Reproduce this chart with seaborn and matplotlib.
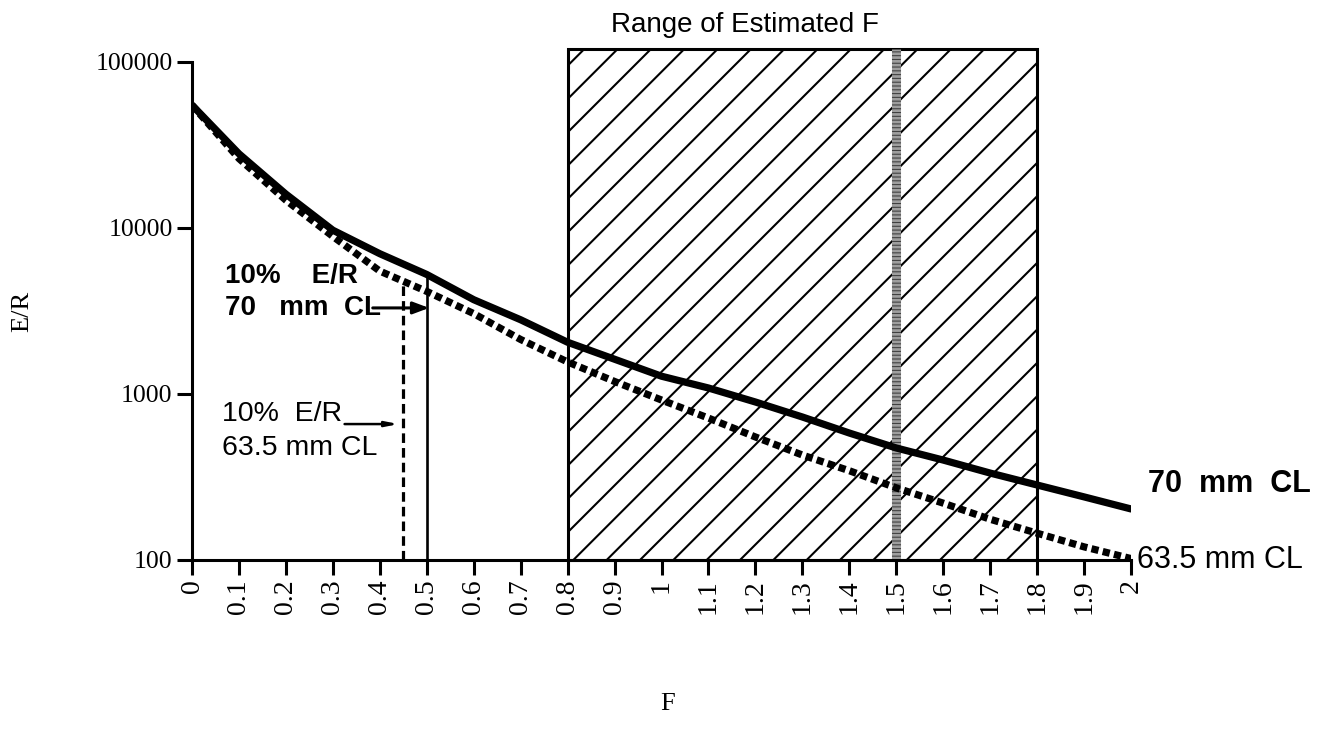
import matplotlib
matplotlib.use("Agg")
import matplotlib.pyplot as plt
import numpy as np
import pandas as pd
import seaborn as sns
from matplotlib.patches import Rectangle

# Fishing mortality F and eggs-per-recruit (E/R) for two minimum carapace lengths
f_values = [0.0, 0.1, 0.2, 0.3, 0.4, 0.5, 0.6, 0.7, 0.8, 0.9, 1.0,
            1.1, 1.2, 1.3, 1.4, 1.5, 1.6, 1.7, 1.8, 1.9, 2.0]
er_70mm = [55000, 28000, 16000, 9700, 7000, 5250, 3700, 2800, 2050, 1620, 1280,
           1087, 895, 727, 582, 473, 400, 334, 283, 240, 203]
er_635mm = [55000, 26200, 14700, 8900, 5500, 4150, 3050, 2130, 1560, 1190, 920,
            716, 551, 429, 345, 272, 220, 176, 145, 120, 102]

# Range of estimated F and the point estimate
f_range = [0.8, 1.8]
f_best = 1.5

# F giving 10% of unfished E/R for each size limit
f_10pct_70mm = 0.5
f_10pct_635mm = 0.45

x_ticks = [0.0, 0.1, 0.2, 0.3, 0.4, 0.5, 0.6, 0.7, 0.8, 0.9, 1.0,
           1.1, 1.2, 1.3, 1.4, 1.5, 1.6, 1.7, 1.8, 1.9, 2.0]
x_tick_labels = ["0", "0.1", "0.2", "0.3", "0.4", "0.5", "0.6", "0.7", "0.8", "0.9", "1",
                 "1.1", "1.2", "1.3", "1.4", "1.5", "1.6", "1.7", "1.8", "1.9", "2"]
y_ticks = [100, 1000, 10000, 100000]
y_tick_labels = ["100", "1000", "10000", "100000"]

sns.set_theme(style="ticks")
plt.rcParams.update({
    "font.family": ["Liberation Serif", "DejaVu Serif"],
    "text.color": "black",
    "axes.labelcolor": "black",
    "axes.linewidth": 2.2,
    "xtick.major.width": 2.2,
    "ytick.major.width": 2.2,
    "xtick.major.size": 11,
    "ytick.major.size": 11,
    "xtick.color": "black",
    "ytick.color": "black",
    "axes.edgecolor": "black",
    "hatch.linewidth": 1.5,
    "hatch.color": "black",
})
SANS = ["Liberation Sans", "DejaVu Sans"]

df_70 = pd.DataFrame({"F": f_values, "ER": er_70mm})
df_635 = pd.DataFrame({"F": f_values, "ER": er_635mm})

fig = plt.figure(figsize=(13.35, 7.42), dpi=100)
ax = fig.add_axes([192 / 1335, 182 / 742, 939 / 1335, 498 / 742])

ax.set_yscale("log")
ax.set_xlim(0, 2)
ax.set_ylim(100, 100000)

# Hatched band for the range of estimated F
band_top = 1.026
ax.add_patch(Rectangle((f_range[0], 0), f_range[1] - f_range[0], band_top,
                       transform=ax.get_xaxis_transform(), fill=False,
                       hatch="/", edgecolor="black", lw=2.2, clip_on=False, zorder=1))
# Stippled line at the point estimate
ax.plot([f_best, f_best], [0, band_top], transform=ax.get_xaxis_transform(),
        color="0.62", lw=6.5, solid_capstyle="butt", clip_on=False, zorder=2)
ax.plot([f_best, f_best], [0, band_top], transform=ax.get_xaxis_transform(),
        color="0.25", lw=6.5, linestyle=(0, (0.12, 0.3)), dash_capstyle="butt",
        clip_on=False, zorder=2)

# E/R curves
sns.lineplot(data=df_70, x="F", y="ER", ax=ax, color="black", lw=5.2,
             solid_capstyle="round", solid_joinstyle="round", zorder=4)
sns.lineplot(data=df_635, x="F", y="ER", ax=ax, color="black", lw=5.2,
             linestyle=(0, (1.0, 0.6)), dash_capstyle="butt", zorder=3)

# Vertical markers at the 10% E/R fishing mortalities
log70 = np.log10(er_70mm)
log635 = np.log10(er_635mm)
top_70 = 10 ** np.interp(f_10pct_70mm, f_values, log70)
top_635 = 10 ** np.interp(f_10pct_635mm, f_values, log635)
ax.plot([f_10pct_70mm, f_10pct_70mm], [100, top_70], color="black", lw=1.9, zorder=3)
ax.plot([f_10pct_635mm, f_10pct_635mm], [100, top_635], color="black", lw=2.3,
        linestyle=(0, (3.0, 1.6)), zorder=3)

# Annotations
ax.text(0.035, 0.571, "10%    E/R", transform=ax.transAxes, family=SANS,
        fontsize=20, fontweight="bold", va="center", ha="left")
ax.text(0.035, 0.506, "70   mm  CL", transform=ax.transAxes, family=SANS,
        fontsize=20, fontweight="bold", va="center", ha="left")
ax.annotate("", xy=(f_10pct_70mm + 0.005, 3300), xytext=(0.385, 3300),
            arrowprops=dict(arrowstyle="-|>,head_length=0.8,head_width=0.3",
                            color="black", lw=2.2, shrinkA=0, shrinkB=0))

ax.text(0.032, 0.294, "10%  E/R", transform=ax.transAxes, family=SANS,
        fontsize=20.5, va="center", ha="left")
ax.text(0.032, 0.225, "63.5 mm CL", transform=ax.transAxes, family=SANS,
        fontsize=20.5, va="center", ha="left")
ax.annotate("", xy=(f_10pct_635mm - 0.01, 659), xytext=(0.325, 659),
            arrowprops=dict(arrowstyle="-|>,head_length=0.6,head_width=0.12",
                            color="black", lw=1.8, shrinkA=0, shrinkB=0))

ax.text(1.018, 0.153, "70  mm  CL", transform=ax.transAxes, family=SANS,
        fontsize=22, fontweight="bold", va="center", ha="left")
ax.text(1.006, 0.0, "63.5 mm CL", transform=ax.transAxes, family=SANS,
        fontsize=22, va="center", ha="left")

fig.text(745 / 1335, 1 - 25 / 742, "Range of Estimated F", family=SANS,
         fontsize=20, ha="center", va="center")

# Axes styling
sns.despine(ax=ax)
ax.set_xticks(x_ticks)
ax.set_xticklabels(x_tick_labels, rotation=90, va="top", ha="center", fontsize=20)
ax.set_yticks(y_ticks)
ax.set_yticklabels(y_tick_labels, fontsize=18.5)
ax.yaxis.set_minor_locator(matplotlib.ticker.NullLocator())
ax.tick_params(axis="x", pad=3, direction="out")
ax.tick_params(axis="y", pad=3, direction="out")

ax.set_xlabel("F", fontsize=19)
ax.set_ylabel("E/R", fontsize=19)
ax.xaxis.set_label_coords(0.507, -0.289)
ax.xaxis.label.set_va("center")
ax.yaxis.set_label_coords(-0.181, 0.5)
ax.yaxis.label.set_va("center")

fig.savefig("out.png", dpi=100)
